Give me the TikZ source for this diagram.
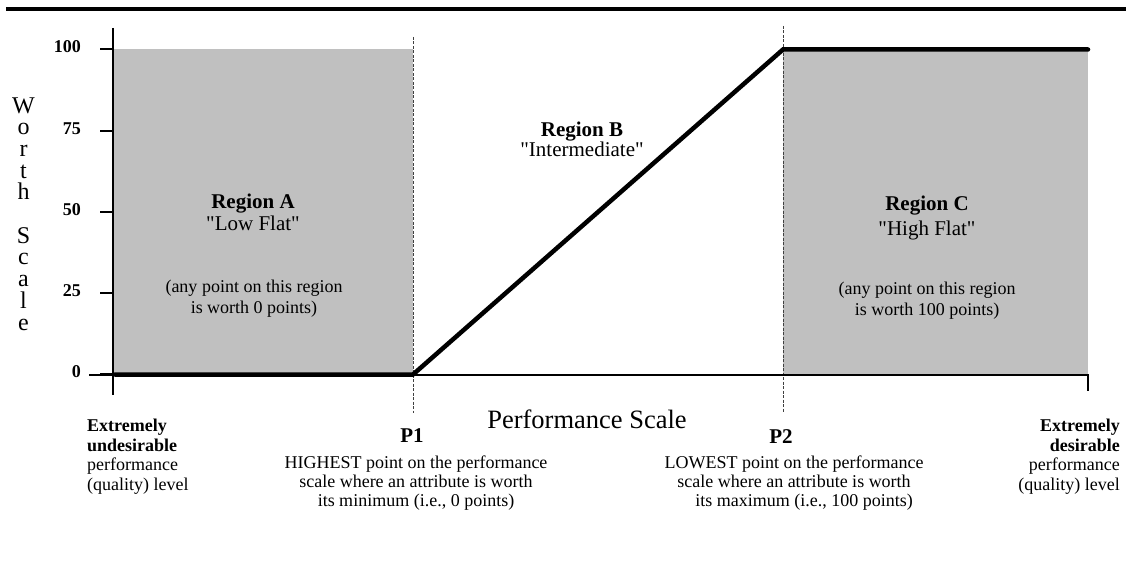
\documentclass[tikz,border=0pt]{standalone}
\usepackage{fontspec}
\setmainfont{Liberation Serif}
\definecolor{regiongray}{RGB}{192,192,192}
\newcommand{\qt}[1]{\textquotedbl#1\textquotedbl}
\tikzset{
  ticklabel/.style={font=\fontsize{18}{20}\selectfont\bfseries, anchor=east, inner sep=0pt},
  smalltext/.style={font=\fontsize{18}{19.5}\selectfont, inner sep=0pt},
  titletext/.style={font=\fontsize{21}{22}\selectfont, inner sep=0pt, align=center, anchor=base},
  pointname/.style={font=\fontsize{21}{22}\selectfont\bfseries, inner sep=0pt, anchor=base},
  axisline/.style={line width=2pt},
  tickmark/.style={line width=2pt},
  guide/.style={line width=0.8pt, black!75, dash pattern=on 3pt off 1.5pt},
  worthcurve/.style={line width=4.5pt, line cap=round},
  region/.style={fill=regiongray, draw=none}
}
\begin{document}
\begin{tikzpicture}[x=1pt,y=-1pt]
  \useasboundingbox (0,0) rectangle (1126,588);

  % heading rule
  \draw[line width=4pt] (6,9) -- (1126,9);

  % flat regions
  \fill[region] (113,49) rectangle (413,375);
  \fill[region] (783,49) rectangle (1088,375);

  % P1 and P2 guide lines
  \draw[guide] (413,37) -- (413,413);
  \draw[guide] (783,26) -- (783,412);

  % axes
  \draw[axisline] (113,28) -- (113,395);
  \draw[axisline, line width=1.8pt] (89,375) -- (1088,375) -- (1088,391);

  % ticks and their labels
  \foreach \v/\y in {100/49, 75/131, 50/212, 25/293, 0/374} {
    \draw[tickmark] (100,\y) -- (113,\y);
    \node[ticklabel] (t\v) at (81,\y-2) {\v};
  }

  % worth function
  \draw[worthcurve] (115,374.5) -- (413,374.5) -- (783,49.5) -- (1088,49.5);

  % vertical axis title (anchored at the baseline of its last line)
  \node[font=\fontsize{24}{21.7}\selectfont, inner sep=0pt, align=center, anchor=base]
    (worth) at (23.5,330) {W\\o\\r\\t\\h\\ \\S\\c\\a\\l\\e};

  % region labels
  \node[titletext] (regA) at (253,230) {\textbf{Region A}\\\qt{Low Flat}};
  \node[smalltext, align=center, anchor=base, font=\fontsize{18}{21}\selectfont] (regAnote) at (254,313)
    {(any point on this region\\is worth 0 points)};
  \node[titletext, font=\fontsize{21}{20}\selectfont] (regB) at (582,157) {\textbf{Region B}\\\qt{Intermediate}};
  \node[titletext, font=\fontsize{21}{25}\selectfont] (regC) at (927,235) {\textbf{Region C}\\\qt{High Flat}};
  \node[smalltext, align=center, anchor=base, font=\fontsize{18}{21}\selectfont] (regCnote) at (927,315)
    {(any point on this region\\is worth 100 points)};

  % horizontal axis title
  \node[font=\fontsize{26.5}{28}\selectfont, inner sep=0pt, anchor=base] (perf) at (587,428) {Performance Scale};

  % ends of the performance scale
  \node[smalltext, align=left, anchor=base west] (lowend) at (87,490)
    {\textbf{Extremely}\\\textbf{undesirable}\\performance\\(quality) level};
  \node[smalltext, align=right, anchor=base east] (highend) at (1120,490)
    {\textbf{Extremely}\\\textbf{desirable}\\performance\\(quality) level};

  % breakpoints
  \node[pointname] (p1) at (412,442) {P1};
  \node[smalltext, font=\fontsize{18}{19}\selectfont, align=center, anchor=base] (p1note) at (416,506)
    {HIGHEST point on the performance\\scale where an attribute is worth\\its minimum (i.e., 0 points)};
  \node[pointname] (p2) at (781,443) {P2};
  \node[smalltext, font=\fontsize{18}{19}\selectfont, align=center, anchor=base] (p2note) at (794,506)
    {LOWEST point on the performance\\scale where an attribute is worth\\\hspace*{20pt}its maximum (i.e., 100 points)};
\end{tikzpicture}
\end{document}
